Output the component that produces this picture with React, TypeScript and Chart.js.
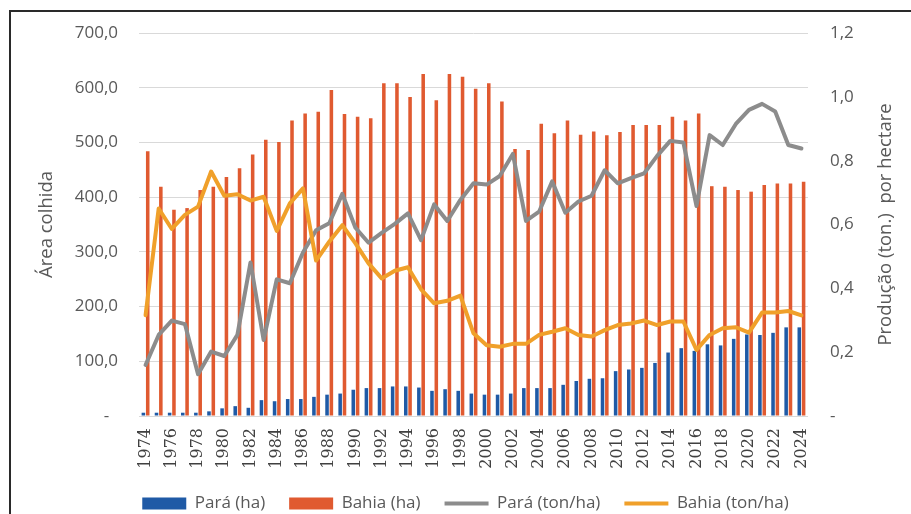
import React, { useEffect, useRef } from 'react';
import { Chart, registerables } from 'chart.js';

Chart.register(...registerables);

const years = [
  '1974', '1975', '1976', '1977', '1978', '1979', '1980', '1981', '1982', '1983',
  '1984', '1985', '1986', '1987', '1988', '1989', '1990', '1991', '1992', '1993',
  '1994', '1995', '1996', '1997', '1998', '1999', '2000', '2001', '2002', '2003',
  '2004', '2005', '2006', '2007', '2008', '2009', '2010', '2011', '2012', '2013',
  '2014', '2015', '2016', '2017', '2018', '2019', '2020', '2021', '2022', '2023',
  '2024',
];

const paraArea = [
  6, 6, 6, 6, 6, 8.5, 14, 18, 15, 29,
  27, 31, 31, 35, 39, 41, 48, 51, 51, 54,
  54, 52, 46, 49, 46, 41, 39, 39, 41, 51,
  51, 51, 57, 64, 68, 69, 82, 85, 88, 97,
  116, 124, 119, 131, 129, 141, 149, 148, 152, 162,
  162,
];

const bahiaArea = [
  484, 419, 377, 380, 413, 419, 437, 453, 478, 505,
  501, 540, 553, 556, 596, 552, 547, 544, 608, 608,
  583, 625, 577, 625, 620, 598, 608, 575, 488, 486,
  534, 517, 540, 514, 520, 513, 519, 532, 532, 532,
  547, 540, 553, 420, 419, 413, 410, 422, 425, 425,
  428,
];

const paraYield = [
  0.160, 0.254, 0.299, 0.288, 0.131, 0.202, 0.188, 0.254, 0.481, 0.238,
  0.428, 0.416, 0.512, 0.582, 0.604, 0.696, 0.590, 0.543, 0.574, 0.602,
  0.635, 0.551, 0.663, 0.611, 0.677, 0.729, 0.725, 0.752, 0.821, 0.611,
  0.640, 0.735, 0.637, 0.672, 0.690, 0.770, 0.729, 0.745, 0.760, 0.815,
  0.862, 0.857, 0.658, 0.880, 0.849, 0.915, 0.959, 0.978, 0.954, 0.849,
  0.838,
];

const bahiaYield = [
  0.316, 0.650, 0.586, 0.630, 0.656, 0.766, 0.690, 0.695, 0.675, 0.687,
  0.580, 0.666, 0.713, 0.487, 0.546, 0.598, 0.541, 0.478, 0.431, 0.455,
  0.466, 0.397, 0.353, 0.361, 0.377, 0.259, 0.222, 0.217, 0.226, 0.226,
  0.254, 0.264, 0.275, 0.254, 0.249, 0.269, 0.285, 0.290, 0.299, 0.285,
  0.296, 0.296, 0.207, 0.254, 0.275, 0.278, 0.261, 0.324, 0.324, 0.329,
  0.315,
];

const leftTicks = [0, 100, 200, 300, 400, 500, 600, 700];
const rightTicks = [0, 0.2, 0.4, 0.6, 0.8, 1.0, 1.2];

const seriesLabels = ['Pará (ha)', 'Bahia (ha)', 'Pará (ton/ha)', 'Bahia (ton/ha)'];
const leftTitle = 'Área colhida';
const rightTitle = 'Produção (ton.)  por hectare';

const BLUE = '#1f5aa6';
const ORANGE = '#e05a30';
const GRAY = '#8c8c8c';
const GOLD = '#f0a02a';
const TEXT = '#595959';
const SANS = '"Open Sans", "DejaVu Sans", sans-serif';

const fmt = (v: number) => v.toFixed(1).replace('.', ',');

const rightTitlePlugin = {
  id: 'rightTitle',
  afterDraw(chart: any) {
    const ctx = chart.ctx;
    const s = chart.scales.y1;
    const area = chart.chartArea;
    ctx.save();
    ctx.translate(s.right - 25, (area.top + area.bottom) / 2);
    ctx.rotate(-Math.PI / 2);
    ctx.textAlign = 'center';
    ctx.textBaseline = 'middle';
    ctx.fillStyle = TEXT;
    ctx.font = `18.5px ${SANS}`;
    ctx.fillText(rightTitle, 0, 0);
    ctx.restore();
  },
};

const legendShiftPlugin = {
  id: 'legendShift',
  afterLayout(chart: any) {
    if (chart.legend) {
      chart.legend.left += 10;
      chart.legend.right += 10;
    }
  },
};

export default function App() {
  const ref = useRef<HTMLCanvasElement>(null);

  useEffect(() => {
    const canvas = ref.current;
    if (!canvas) return;
    const chart = new Chart(canvas, {
      type: 'bar',
      data: {
        labels: years,
        datasets: [
          {
            type: 'bar',
            label: seriesLabels[0],
            data: paraArea,
            backgroundColor: BLUE,
            borderWidth: 0,
            yAxisID: 'y',
            order: 3,
            pointStyle: 'rect',
            categoryPercentage: 0.66,
            barPercentage: 0.82,
          },
          {
            type: 'bar',
            label: seriesLabels[1],
            data: bahiaArea,
            backgroundColor: ORANGE,
            borderWidth: 0,
            yAxisID: 'y',
            order: 4,
            pointStyle: 'rect',
            categoryPercentage: 0.66,
            barPercentage: 0.82,
          },
          {
            type: 'line',
            label: seriesLabels[2],
            data: paraYield,
            borderColor: GRAY,
            backgroundColor: GRAY,
            borderWidth: 4,
            pointRadius: 0,
            pointStyle: 'line',
            borderJoinStyle: 'round',
            borderCapStyle: 'round',
            yAxisID: 'y1',
            order: 2,
          },
          {
            type: 'line',
            label: seriesLabels[3],
            data: bahiaYield,
            borderColor: GOLD,
            backgroundColor: GOLD,
            borderWidth: 4,
            pointRadius: 0,
            pointStyle: 'line',
            borderJoinStyle: 'round',
            borderCapStyle: 'round',
            yAxisID: 'y1',
            order: 1,
          },
        ] as any,
      },
      options: {
        responsive: false,
        animation: false,
        layout: { padding: { top: 33, left: 0, right: 0, bottom: 0 } },
        plugins: {
          legend: {
            position: 'bottom',
            labels: {
              usePointStyle: true,
              pointStyleWidth: 44,
              boxHeight: 12,
              padding: 24,
              color: TEXT,
              font: { family: SANS, size: 17 },
              sort: (a: any, b: any) => a.datasetIndex - b.datasetIndex,
            },
          },
          tooltip: { enabled: false },
        },
        scales: {
          x: {
            offset: true,
            grid: { display: false, drawTicks: false },
            border: { display: false },
            ticks: {
              autoSkip: false,
              maxRotation: 90,
              minRotation: 90,
              padding: 12,
              color: '#404040',
              font: { family: '"DejaVu Serif", serif', size: 16 },
              callback: (_v: any, i: number) => (i % 2 === 0 ? years[i] : ''),
            },
            afterFit: (s: any) => {
              s.height = 55;
            },
          },
          y: {
            position: 'left',
            min: leftTicks[0],
            max: leftTicks[leftTicks.length - 1],
            afterBuildTicks: (s: any) => {
              s.ticks = leftTicks.map((v) => ({ value: v }));
            },
            ticks: {
              padding: 21,
              color: TEXT,
              font: { family: SANS, size: 17 },
              callback: (v: any) => (Number(v) === 0 ? '-  ' : fmt(Number(v))),
            },
            grid: { color: '#d9d9d9', lineWidth: 1, drawTicks: false },
            border: { display: false },
            title: {
              display: true,
              text: leftTitle,
              color: TEXT,
              font: { family: SANS, size: 18.5 },
              padding: { top: 36, bottom: 0 },
            },
            afterFit: (s: any) => {
              s.width = 139;
            },
          },
          y1: {
            position: 'right',
            min: rightTicks[0],
            max: rightTicks[rightTicks.length - 1],
            afterBuildTicks: (s: any) => {
              s.ticks = rightTicks.map((v) => ({ value: v }));
            },
            ticks: {
              padding: 22,
              color: TEXT,
              font: { family: SANS, size: 17 },
              callback: (v: any) => (Number(v) === 0 ? '-' : fmt(Number(v))),
            },
            grid: { display: false, drawTicks: false },
            border: { display: false },
            afterFit: (s: any) => {
              s.width = 103;
            },
          },
        },
      } as any,
      plugins: [rightTitlePlugin, legendShiftPlugin],
    });
    return () => chart.destroy();
  }, []);

  return (
    <div
      style={{
        position: 'fixed',
        left: 0,
        top: 0,
        width: 911,
        height: 514,
        overflow: 'hidden',
        background: '#ffffff',
      }}
    >
      <div
        style={{
          position: 'absolute',
          left: 9,
          top: 10,
          width: 1000,
          height: 600,
          borderLeft: '2px solid #2a2a2a',
          borderTop: '2px solid #2a2a2a',
        }}
      />
      <canvas
        ref={ref}
        width={911}
        height={522}
        style={{ position: 'absolute', left: 0, top: 0, width: 911, height: 522 }}
      />
    </div>
  );
}
